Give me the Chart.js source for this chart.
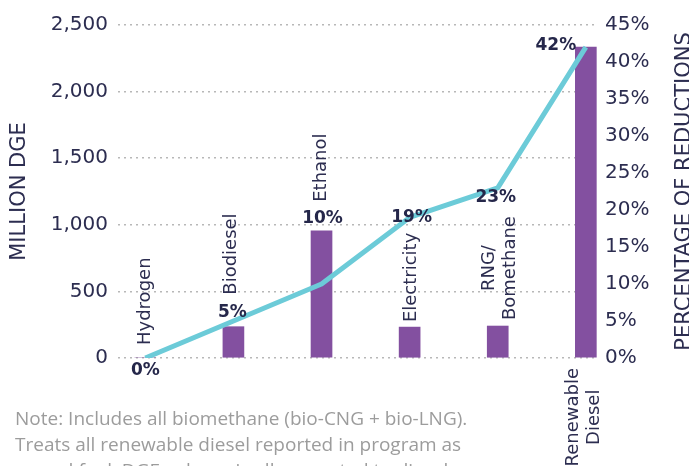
<!DOCTYPE html>
<html>
<head>
<meta charset="utf-8">
<script src="https://cdn.jsdelivr.net/npm/chart.js@4.4.1/dist/chart.umd.min.js"></script>
<style>
  html, body { margin: 0; padding: 0; background: #ffffff; }
  #wrap { position: relative; width: 689px; height: 466px; overflow: hidden; }
  #note { position: absolute; left: 15px; top: 405px; width: 660px;
          font: 19px "Open Sans", Lato, sans-serif; line-height: 26px; color: #9c9c9c; white-space: nowrap; }
</style>
</head>
<body>
<div id="wrap">
  <canvas id="c" width="689" height="466"></canvas>
  <div id="note">Note: Includes all biomethane (bio-CNG + bio-LNG).<br>Treats all renewable diesel reported in program as<br>a used fuel; DGE volume is all converted to diesel</div>
</div>
<script>
// ---- data ----
const categories = ['Hydrogen', 'Biodiesel', 'Ethanol', 'Electricity', ['RNG/', 'Bomethane'], ['Renewable', 'Diesel']];
const volumeMillionDGE = [0, 235, 955, 232, 240, 2335];
const reductionPct = [0, 5, 10, 19, 23, 42];
const pctLabels = ['0%', '5%', '10%', '19%', '23%', '42%'];
const leftAxisTitle = 'MILLION DGE';
const rightAxisTitle = 'PERCENTAGE OF REDUCTIONS';

// ---- label layout (pixels) ----
const catLabelPlace = ['above', 'above', 'above', 'above', 'above', 'below'];
const catLabelGap = [13, 32, 29, 5, 6, 10];
const catLabelShift = [0, -2, 0, 2, 2, -2];
const pctLabelOffset = [[0, 13], [-1, -8], [1, -65], [2, 0], [-2, 10], [-30, -2]];

const NAVY = '#2c2d50';
const PURPLE = '#8350a0';
const CYAN = '#6ccbd8';

const labelPlugin = {
  id: 'labelPlugin',
  afterDatasetsDraw(chart) {
    const ctx = chart.ctx;
    const xs = chart.scales.x, ys = chart.scales.y, ys1 = chart.scales.y1;
    ctx.save();
    // category labels, rotated
    ctx.font = '18px "DejaVu Sans"';
    ctx.fillStyle = NAVY;
    ctx.textAlign = 'center';
    ctx.textBaseline = 'middle';
    const lineH = 21;
    categories.forEach((lab, i) => {
      const lines = Array.isArray(lab) ? lab : [lab];
      const len = Math.max(...lines.map(l => ctx.measureText(l).width));
      const px = xs.getPixelForValue(i) + catLabelShift[i];
      let cy;
      if (catLabelPlace[i] === 'below') {
        cy = ys.getPixelForValue(0) + catLabelGap[i] + len / 2;
      } else {
        cy = ys.getPixelForValue(volumeMillionDGE[i]) - catLabelGap[i] - len / 2;
      }
      ctx.save();
      ctx.translate(px, cy);
      ctx.rotate(-Math.PI / 2);
      lines.forEach((l, j) => ctx.fillText(l, 0, (j - (lines.length - 1) / 2) * lineH));
      ctx.restore();
    });
    // percentage labels
    ctx.font = 'bold 17px "DejaVu Sans"';
    ctx.fillStyle = '#25274a';
    pctLabels.forEach((t, i) => {
      const px = xs.getPixelForValue(i) + pctLabelOffset[i][0];
      const py = ys1.getPixelForValue(reductionPct[i]) + pctLabelOffset[i][1];
      ctx.fillText(t, px, py);
    });
    // right axis title, reading bottom to top
    ctx.font = '21px "DejaVu Sans"';
    ctx.fillStyle = NAVY;
    const ca = chart.chartArea;
    ctx.translate(685, (ca.top + ca.bottom) / 2);
    ctx.rotate(-Math.PI / 2);
    ctx.fillText(rightAxisTitle, 0, 0);
    ctx.restore();
  }
};

const barData = volumeMillionDGE.map((v, i) => ({ x: i, y: v }));
const lineData = reductionPct.map((v, i) => ({ x: i, y: v }));

new Chart(document.getElementById('c'), {
  data: {
    datasets: [
      {
        type: 'line', data: lineData, yAxisID: 'y1', xAxisID: 'x',
        borderColor: CYAN, borderWidth: 5, pointRadius: 0, tension: 0,
        borderCapStyle: 'butt', borderJoinStyle: 'round', order: 0
      },
      {
        type: 'bar', data: barData, yAxisID: 'y', xAxisID: 'x',
        backgroundColor: PURPLE, barThickness: 21, order: 1
      }
    ]
  },
  options: {
    responsive: false,
    animation: false,
    devicePixelRatio: 1,
    layout: { padding: { top: 25, bottom: 108, left: 0, right: 0 } },
    plugins: { legend: { display: false }, tooltip: { enabled: false } },
    scales: {
      x: {
        type: 'linear', display: false, offset: false, min: -0.31, max: 5.138,
        grid: { display: false }
      },
      y: {
        position: 'left', min: 0, max: 2500,
        ticks: {
          stepSize: 500, padding: 10, color: NAVY,
          font: { family: '"DejaVu Sans"', size: 20 },
          callback: v => v.toLocaleString('en-US')
        },
        grid: {
          drawTicks: false, color: '#b8b8b8', lineWidth: 1.5
        },
        border: { display: false, dash: [2, 4] },
        title: {
          display: true, text: leftAxisTitle, color: NAVY,
          font: { family: '"DejaVu Sans"', size: 21 },
          padding: { top: 7, bottom: 0 }
        },
        afterFit: s => { s.width = 118; }
      },
      y1: {
        position: 'right', min: 0, max: 45,
        ticks: {
          stepSize: 5, padding: 7, color: NAVY,
          font: { family: '"DejaVu Sans"', size: 20 },
          callback: v => v + '%'
        },
        grid: { display: false, drawTicks: false },
        border: { display: false },
        afterFit: s => { s.width = 91; }
      }
    }
  },
  plugins: [labelPlugin]
});
</script>
</body>
</html>
